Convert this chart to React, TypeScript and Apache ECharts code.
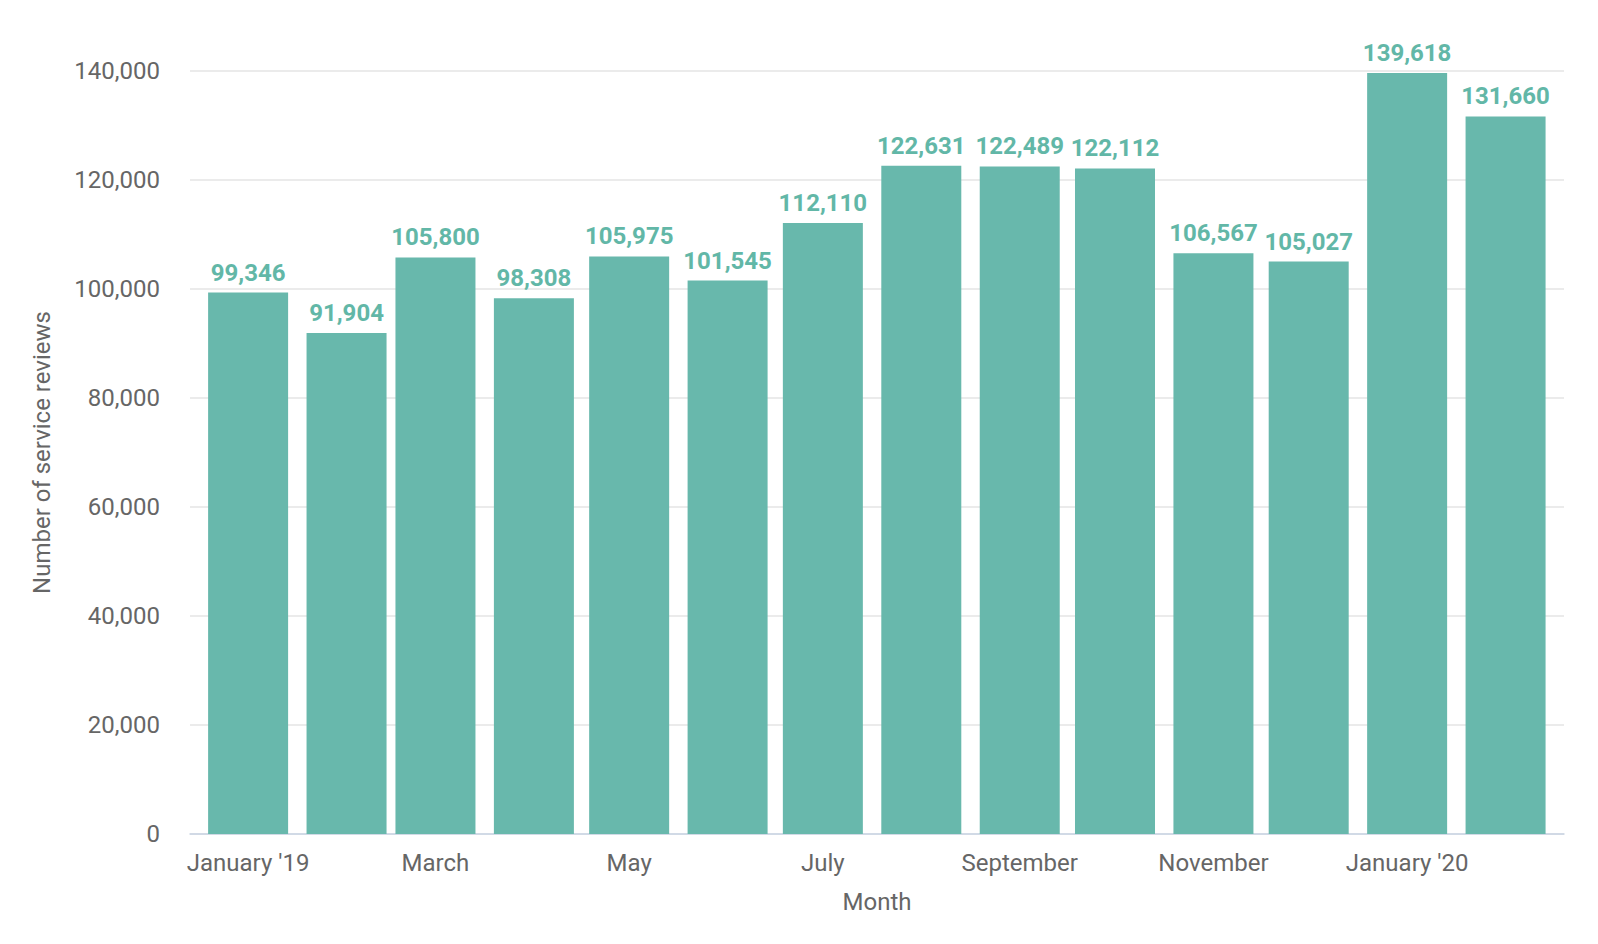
import React, { useEffect, useRef } from "react";
import * as echarts from "echarts";

const months = [
  "2019-01", "2019-02", "2019-03", "2019-04", "2019-05", "2019-06", "2019-07",
  "2019-08", "2019-09", "2019-10", "2019-11", "2019-12", "2020-01", "2020-02",
];
const reviews = [
  99346, 91904, 105800, 98308, 105975, 101545, 112110,
  122631, 122489, 122112, 106567, 105027, 139618, 131660,
];
const xTickMonths = ["2019-01", "2019-03", "2019-05", "2019-07", "2019-09", "2019-11", "2020-01"];
const xTickLabels = ["January '19", "March", "May", "July", "September", "November", "January '20"];
const yTicks = [0, 20000, 40000, 60000, 80000, 100000, 120000, 140000];

const BASE = Date.UTC(2019, 0, 1);
function dayOf(m: string): number {
  const [y, mo] = m.split("-").map(Number);
  return Math.round((Date.UTC(y, mo - 1, 1) - BASE) / 86400000);
}

const FONT = "Roboto";
const TEXT = "#666666";
const BAR = "#68b8ac";
const FS = 24;

export default function App() {
  const ref = useRef<HTMLDivElement>(null);
  useEffect(() => {
    document.body.style.margin = "0";
    if (!ref.current) return;
    const chart = echarts.init(ref.current, null, { renderer: "svg" });
    const tickDays = xTickMonths.map(dayOf);
    const labelMap: Record<number, string> = {};
    tickDays.forEach((d, i) => (labelMap[d] = xTickLabels[i]));
    chart.setOption({
      animation: false,
      textStyle: { fontFamily: FONT },
      grid: { left: 190, right: 34, top: 71, bottom: 110, containLabel: false },
      xAxis: {
        type: "value",
        min: -18.3,
        max: 414.4,
        name: "Month",
        nameLocation: "middle",
        nameGap: 56,
        nameTextStyle: { color: TEXT, fontSize: FS, fontFamily: FONT },
        axisLine: { show: true, lineStyle: { color: "#c9d4e4", width: 1.5 } },
        axisTick: { show: false },
        splitLine: { show: false },
        axisLabel: {
          customValues: tickDays,
          formatter: (v: number) => labelMap[Math.round(v)] ?? "",
          color: TEXT,
          fontSize: FS,
          fontFamily: FONT,
          margin: 17,
        },
      },
      yAxis: {
        type: "value",
        min: 0,
        max: 140000,
        interval: 20000,
        name: "Number of service reviews",
        nameLocation: "middle",
        nameGap: 136,
        nameTextStyle: { color: TEXT, fontSize: FS, fontFamily: FONT },
        axisLine: { show: false },
        axisTick: { show: false },
        splitLine: { lineStyle: { color: "#e4e4e4", width: 1.5 } },
        axisLabel: {
          color: TEXT,
          fontSize: FS,
          fontFamily: FONT,
          margin: 30,
          formatter: (v: number) => (yTicks.includes(v) ? v.toLocaleString("en-US") : ""),
        },
      },
      series: [
        {
          type: "bar",
          barWidth: 80,
          data: months.map((m, i) => [dayOf(m), reviews[i]]),
          itemStyle: { color: BAR },
          label: {
            show: true,
            position: "top",
            distance: 8,
            color: "#62b7a7",
            fontSize: FS,
            fontWeight: "bold",
            fontFamily: FONT,
            formatter: (p: any) => Number(p.value[1]).toLocaleString("en-US"),
          },
        },
      ],
    });
    return () => chart.dispose();
  }, []);
  return <div ref={ref} style={{ width: 1598, height: 944 }} />;
}
